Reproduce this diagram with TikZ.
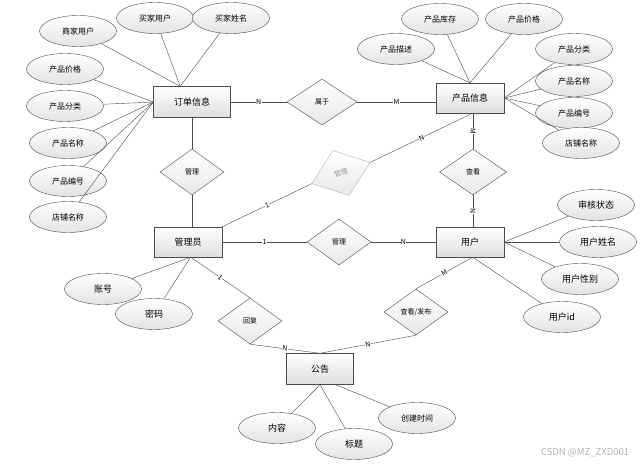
\documentclass[tikz,border=0pt]{standalone}
\usepackage{fontspec}
\setmainfont{Noto Sans CJK SC}
\usetikzlibrary{shapes.geometric}

\begin{document}
\begin{tikzpicture}[
        x=1pt,
        y=-1pt,
        entity/.style={draw=black!70, rectangle, minimum width=68pt, minimum height=30pt,
            top color=white, bottom color=black!13, font=\fontsize{9}{10}\selectfont},
        attr/.style={draw=black!70, ellipse, minimum width=77pt, minimum height=31pt, inner sep=0pt,
            top color=white, bottom color=black!11, font=\fontsize{8}{9}\selectfont},
        rel/.style={draw=black!70, diamond, minimum width=64pt, minimum height=46pt, inner sep=0pt,
            top color=white, bottom color=black!9, font=\fontsize{7}{8}\selectfont},
        card/.style={fill=white, inner sep=0.4pt, font=\fontsize{7}{8}\selectfont},
        link/.style={draw=black!70}]
\useasboundingbox (0,0) rectangle (643,465);
% entities
\node[entity, minimum width=77pt, minimum height=31pt] (dd) at (192,102) {订单信息};
\node[entity] (cp) at (470,98) {产品信息};
\node[entity] (gly) at (188,242) {管理员};
\node[entity] (yh) at (470,242) {用户};
\node[entity, minimum width=67pt, minimum height=31pt] (gg) at (320,369) {公告};
% relations
\node[rel, minimum width=70pt] (sy) at (322,102) {属于};
\node[rel] (gl1) at (192,172) {管理};
\node[rel, rotate=20, draw=black!30, text=black!40, minimum width=62pt, minimum height=48pt] (gl2) at (341,173) {管理};
\node[rel, minimum width=67pt] (ck) at (473,172) {查看};
\node[rel] (gl3) at (339,242) {管理};
\node[rel] (hf) at (250,321) {回复};
\node[rel] (fb) at (416,312) {查看/发布};
% attributes of 订单信息
\foreach \Name/\X/\Y/\Text in {d1/78/31/商家用户, d2/155/18/买家用户, d3/231/18/买家姓名}{
    \node[attr] (\Name) at (\X,\Y) {\Text};
    \draw[link] (\Name) -- (dd.127);
}
\foreach \Name/\X/\Y/\Text in {d4/65/69/产品价格, d5/65/106/产品分类, d6/68/143/产品名称,
        d7/68/181/产品编号, d8/68/217/店铺名称}{
    \node[attr] (\Name) at (\X,\Y) {\Text};
    \draw[link] (\Name) -- (dd.west);
}
% attributes of 产品信息
\foreach \Name/\X/\Y/\Text in {p1/396/49/产品描述, p2/440/19/产品库存, p3/524/19/产品价格}{
    \node[attr] (\Name) at (\X,\Y) {\Text};
    \draw[link] (\Name) -- (cp.north);
}
\foreach \Name/\X/\Y/\Text in {p4/574/49/产品分类, p5/574/81/产品名称, p6/574/113/产品编号,
        p7/581/143/店铺名称}{
    \node[attr] (\Name) at (\X,\Y) {\Text};
    \draw[link] (\Name) -- (cp.east);
}
% attributes of 用户
\foreach \Name/\X/\Y/\Text in {u1/596/205/审核状态, u2/598/242/用户姓名, u3/580/279/用户性别}{
    \node[attr, font=\fontsize{9}{10}\selectfont] (\Name) at (\X,\Y) {\Text};
    \draw[link] (\Name) -- (yh.east);
}
\node[attr, font=\fontsize{9}{10}\selectfont] (u4) at (562,317) {用户id};
\draw[link] (u4) -- (yh.-80);
% attributes of 管理员
\node[attr, font=\fontsize{9}{10}\selectfont] (a1) at (103,289) {账号};
\node[attr, font=\fontsize{9}{10}\selectfont] (a2) at (154,314) {密码};
\draw[link] (a1) -- (gly.-80);
\draw[link] (a2) -- (gly.-80);
% attributes of 公告
\node[attr, font=\fontsize{9}{10}\selectfont] (g1) at (277,428) {内容};
\node[attr, font=\fontsize{9}{10}\selectfont] (g2) at (354,444) {标题};
\node[attr] (g3) at (417,418) {创建时间};
\draw[link] (g1) -- (gg.south);
\draw[link] (g2) -- (gg.south);
\draw[link] (g3) -- (gg.-45);
% connectors
\draw[link] (dd.east) -- node[card] {N} (sy.west);
\draw[link] (sy.east) -- node[card] {M} (sy.east -| cp.west);
\draw[link] (dd.south -| gl1.north) -- (gl1.north);
\draw[link] (gl1.south) -- (gl1.south |- gly.north);
\draw[link] (gly.north east) -- node[card, sloped] {1} (gl2.west);
\draw[link] (gl2.east) -- node[card, sloped] {N} (cp.-80);
\draw[link] (ck.north |- cp.south) -- node[card, sloped] {M} (ck.north);
\draw[link] (ck.south) -- node[card, sloped] {N} (ck.south |- yh.north);
\draw[link] (gly.east) -- node[card] {1} (gl3.west);
\draw[link] (gl3.east) -- node[card] {N} (yh.west);
\draw[link] (gly.-80) -- node[card, sloped] {1} (hf.north);
\draw[link] (hf.south) -- node[card, sloped] {N} (gg.north);
\draw[link] (yh.-80) -- node[card, sloped] {M} (fb.north);
\draw[link] (fb.south) -- node[card, sloped] {N} (gg.north);
% watermark
\node[text=black!30, font=\fontsize{9.5}{10}\selectfont] (wm) at (585,453) {CSDN @MZ\_ZXD001};
\end{tikzpicture}
\end{document}
